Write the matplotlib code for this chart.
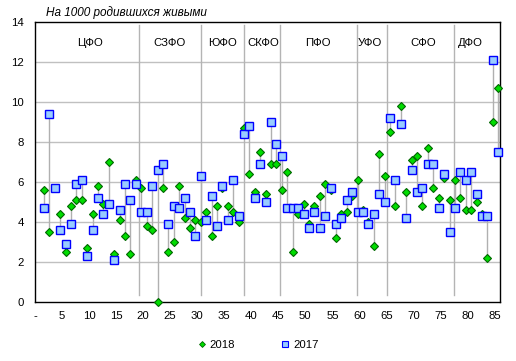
import numpy as np
import matplotlib
matplotlib.use("Agg")
import matplotlib.pyplot as plt
from matplotlib.lines import Line2D

plt.rcParams['font.family'] = ['Liberation Sans', 'DejaVu Sans']

# infant mortality per 1000 live births, regions 1..85
v2018 = [5.6, 3.5, 5.7, 4.4, 2.5, 4.8, 5.1, 5.1, 2.7, 4.4, 5.8, 4.9, 7.0, 2.4, 4.1, 3.3, 2.4, 6.1,
         5.7, 3.8, 3.6, 0.0, 5.7, 2.5, 3.0, 5.8, 4.2, 3.7, 4.1,
         4.0, 4.5, 3.3, 4.8, 5.7, 4.8, 4.5, 4.0,
         8.7, 6.4, 5.5, 7.5, 5.4, 6.9, 6.9,
         5.6, 6.5, 2.5, 4.4, 4.9, 3.9, 4.8, 5.3, 5.9, 5.6, 3.2, 4.4, 4.5, 5.3,
         6.1, 4.6, 4.0, 2.8, 7.4, 6.3,
         8.5, 4.8, 9.8, 5.5, 7.1, 7.3, 4.8, 7.7, 5.7, 5.2, 6.2, 5.1,
         6.1, 5.2, 4.6, 4.6, 5.0, 4.4, 2.2, 9.0, 10.7]
v2017 = [4.7, 9.4, 5.7, 3.6, 2.9, 3.9, 5.9, 6.1, 2.3, 3.6, 5.2, 4.4, 4.9, 2.1, 4.6, 5.9, 5.1, 5.9,
         4.5, 4.5, 5.8, 6.6, 6.9, 3.9, 4.8, 4.7, 5.2, 4.5, 3.3,
         6.3, 4.1, 5.3, 3.8, 5.8, 4.1, 6.1, 4.3,
         8.4, 8.8, 5.2, 6.9, 5.0, 9.0, 7.9,
         7.3, 4.7, 4.7, 4.7, 4.4, 3.7, 4.5, 3.7, 4.3, 5.7, 3.9, 4.2, 5.1, 5.5,
         4.5, 4.5, 3.9, 4.4, 5.4, 5.0,
         9.2, 6.1, 8.9, 4.2, 6.6, 5.5, 5.7, 6.9, 6.9, 4.7, 6.4, 3.5,
         4.7, 6.5, 6.1, 6.5, 5.4, 4.3, 4.3, 12.1, 7.5]

districts = ['ЦФО', 'СЗФО', 'ЮФО', 'СКФО', 'ПФО', 'УФО', 'СФО', 'ДФО']
district_label_x = [10.2, 24.8, 34.7, 42.3, 52.4, 61.9, 71.8, 80.5]
separators = [19.3, 30.7, 38.6, 45.35, 59.5, 65.1, 77.5]

x = np.arange(1, len(v2018) + 1) + 0.66

fig = plt.figure(figsize=(5.16, 3.61), dpi=100)
ax = fig.add_axes([0.0678, 0.1643, 0.9012, 0.7739])

for y in range(2, 14, 2):
    ax.axhline(y, color='#c0c0c0', lw=1, zorder=0)
for s in separators:
    ax.plot([s, s], [0.35, 13.85], color='#b4b4b4', lw=1, zorder=0)

ax.vlines(x, np.minimum(v2018, v2017), np.maximum(v2018, v2017), color='#b0b0b0', lw=1, zorder=1)
ax.plot(x, v2018, ls='none', marker='D', ms=4.2, mfc='#00dd00', mec='#006600', mew=0.8, zorder=3, clip_on=False)
ax.plot(x, v2017, ls='none', marker='s', ms=6, mfc='#99ccff', mec='#0000ff', mew=1, zorder=4, clip_on=False)

for name, lx in zip(districts, district_label_x):
    ax.text(lx, 12.95, name, ha='center', va='center', fontsize=8.2)

ax.set_xlim(0, 86)
ax.set_ylim(0, 14)
ax.set_xticks(range(0, 86, 5))
ax.set_xticklabels(['-'] + [str(t) for t in range(5, 86, 5)])
ax.set_yticks(range(0, 15, 2))
ax.tick_params(length=0, labelsize=8.2)
ax.tick_params(axis='x', pad=7)
ax.tick_params(axis='y', pad=8)
for sp in ax.spines.values():
    sp.set_color('black')
    sp.set_linewidth(1)

fig.text(0.089, 0.965, 'На 1000 родившихся живыми', style='italic', fontsize=8.5, va='center')

handles = [Line2D([], [], ls='none', marker='D', ms=3, mfc='#00dd00', mec='#006600', mew=0.6),
           Line2D([], [], ls='none', marker='s', ms=4, mfc='#99ccff', mec='#0000ff', mew=0.8)]
fig.legend(handles, ['2018', '2017'], loc='center', bbox_to_anchor=(0.5, 0.045), ncol=2,
           frameon=False, fontsize=8.2, handlelength=0.8, handletextpad=0.3, columnspacing=4)

fig.savefig('out.png', dpi=100)
